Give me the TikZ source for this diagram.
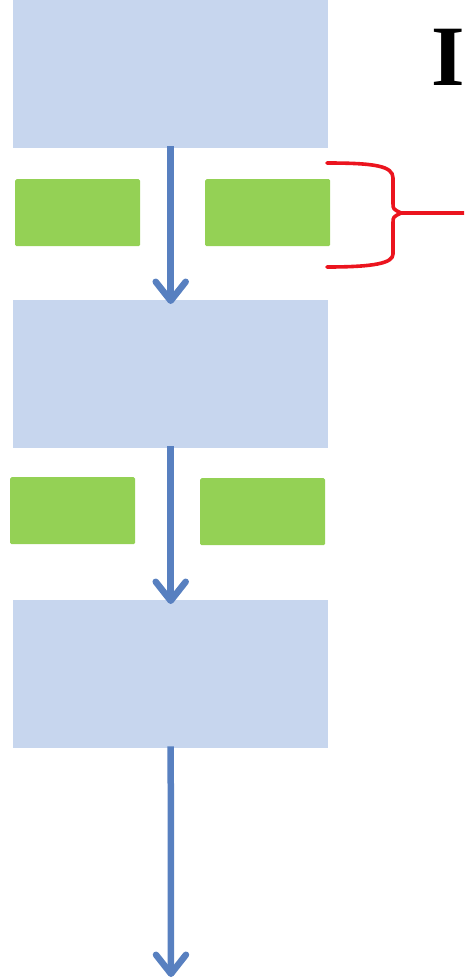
\documentclass[tikz,border=0pt]{standalone}
\usepackage{fontspec}
\newfontfamily\titlefont{Liberation Serif}
\usetikzlibrary{arrows.meta}
\definecolor{boxblue}{RGB}{199,214,238}
\definecolor{boxgreen}{RGB}{148,209,85}
\definecolor{arrowblue}{RGB}{88,128,192}
\definecolor{bracered}{RGB}{235,20,30}
\tikzset{
  stage/.style={fill=boxblue, draw=none, minimum width=315pt, minimum height=148pt, inner sep=0pt, anchor=north west},
  side/.style={fill=boxgreen, draw=none, rounded corners=1.5pt, minimum width=125pt, minimum height=67pt, inner sep=0pt, anchor=north west},
  flow/.style={draw=arrowblue, line width=6.5pt, -{Straight Barb[length=19pt,width=30pt,round]}},
  bracket/.style={draw=bracered, line width=3.6pt, line cap=round, line join=round}
}
\begin{document}
\begin{tikzpicture}[x=1pt,y=-1pt]
\useasboundingbox (0,0) rectangle (464,980);
\clip (0,0) rectangle (464,980);
% stages
\node[stage] (b1) at (13,0) {};
\node[stage] (b2) at (13,300) {};
\node[stage] (b3) at (13,600) {};
% side boxes
\node[side] (g1l) at (15,179) {};
\node[side] (g1r) at (205,179) {};
\node[side] (g2l) at (10,477) {};
\node[side] (g2r) at (200,478) {};
% arrows
\coordinate (end) at (171,977);
\draw[flow] ([yshift=2pt]b1.south) -- ([yshift=-4pt]b2.north);
\draw[flow] ([yshift=2pt]b2.south) -- ([yshift=-4pt]b3.north);
\draw[flow] ([yshift=2pt]b3.south) -- (end);
% brace
\coordinate (bt) at (401,213);
\coordinate (bout) at (470,213);
\draw[bracket] (327,163) .. controls (375,163) and (393,166) .. (393,178)
  -- (393,203) .. controls (393,209) .. (bt)
  .. controls (393,217) .. (393,223)
  -- (393,254) .. controls (393,263) and (375,267) .. (327,267);
\draw[bracket] (bt) -- (bout);
% title letter
\node[anchor=base west, inner sep=0pt, font=\titlefont\bfseries\fontsize{86}{86}\selectfont] (title) at (431,85) {I};
\end{tikzpicture}
\end{document}
